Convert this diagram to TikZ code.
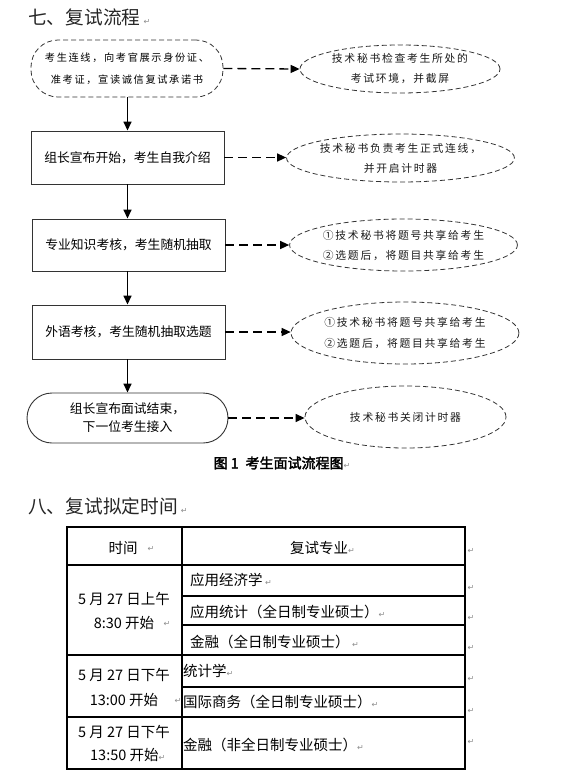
\documentclass[tikz,border=0pt]{standalone}
\usepackage{fontspec}
\setmainfont{Noto Sans CJK SC}
\newfontfamily\cjksp[LetterSpace=16]{Noto Sans CJK SC}
\newfontfamily\cjkb[FakeBold=2.5]{Noto Sans CJK SC}
\newfontfamily\dejavu{DejaVu Sans}
\usetikzlibrary{arrows.meta,shapes.geometric}
\newcommand\parmark{{\dejavu\color{black!45}\fontsize{8}{8}\selectfont ↵}}
\tikzset{
  box/.style={draw=black!80, line width=0.9pt, minimum width=193pt, minimum height=53pt,
    inner sep=0pt, align=center, font=\fontsize{12.8}{15}\selectfont},
  stadium/.style={draw=black!80, line width=0.9pt, rounded corners=25pt, minimum width=201pt,
    minimum height=50pt, inner sep=0pt, align=center, font=\fontsize{12.8}{18}\selectfont},
  topbox/.style={draw=black!80, line width=0.8pt, dash pattern=on 5pt off 3pt, rounded corners=27pt,
    minimum width=192pt, minimum height=57pt, inner sep=0pt, align=center,
    font=\cjksp\fontsize{10.2}{22}\selectfont},
  note/.style={ellipse, draw=black!80, line width=0.8pt, dash pattern=on 5pt off 3pt,
    inner sep=0pt, align=center, text=black!90, font=\cjksp\fontsize{10.8}{20}\selectfont},
  flow/.style={line width=1.5pt, -{Triangle[length=9pt,width=8pt]}},
  dflow/.style={line width=1.3pt, dash pattern=on 9pt off 5pt, -{Triangle[length=9pt,width=8pt]}},
  tbl/.style={line width=1.2pt, black},
  head/.style={anchor=west, inner sep=0pt, text=black!85, font=\fontsize{18.7}{20}\selectfont},
  cell/.style={inner sep=0pt, font=\fontsize{14.5}{16}\selectfont},
  pmk/.style={inner sep=0pt}
}
\begin{document}
\begin{tikzpicture}[x=1pt,y=-1pt]
\useasboundingbox (0,0) rectangle (566,782);

% heading 1
\node[head] (h1) at (28,17) {七、复试流程\,\parmark};

% flow nodes
\node[topbox] (n1) at (127,68.5) {考生连线，向考官展示身份证、\\准考证，宣读诚信复试承诺书};
\node[box] (n2) at (127.5,157.5) {组长宣布开始，考生自我介绍};
\node[box, minimum height=52pt] (n3) at (128.5,245) {专业知识考核，考生随机抽取};
\node[box, minimum height=54pt] (n4) at (128.5,332) {外语考核，考生随机抽取选题};
\node[stadium] (n5) at (127.5,418) {组长宣布面试结束，\\下一位考生接入};

% notes
\node[note, minimum width=200pt, minimum height=48pt] (e1) at (400,69) {技术秘书检查考生所处的\\考试环境，并截屏};
\node[note, minimum width=201pt, minimum height=48pt] (e2) at (400.5,158) {技术秘书负责考生正式连线，\\并开启计时器};
\node[note, minimum width=201pt, minimum height=52pt] (e3) at (403.5,245) {①技术秘书将题号共享给考生\\②选题后，将题目共享给考生};
\node[note, minimum width=200pt, minimum height=62pt, font=\cjksp\fontsize{10.8}{21}\selectfont] (e4) at (405,333) {①技术秘书将题号共享给考生\\②选题后，将题目共享给考生};
\node[note, minimum width=201pt, minimum height=62pt] (e5) at (405.5,417) {技术秘书关闭计时器};

% vertical arrows
\draw[flow] (n1.south -| 127.5,0) -- (n2.north -| 127.5,0);
\draw[flow] (n2.south -| 127.5,0) -- (n3.north -| 127.5,0);
\draw[flow] (n3.south -| 127.5,0) -- (n4.north -| 127.5,0);
\draw[flow] (n4.south -| 127.5,0) -- (n5.north -| 127.5,0);

% dashed arrows
\draw[dflow] (n1.east) -- (e1.west);
\draw[dflow] (n2.east) -- (e2.west |- n2.east);
\draw[dflow] (n3.east) -- (e3.west);
\draw[dflow] (n4.east) -- (e4.west |- n4.east);
\draw[dflow] (n5.east) -- (e5.west |- n5.east);

% caption
\node[inner sep=0pt, font=\cjkb\fontsize{14}{15}\selectfont] (cap) at (282,463) {图 1\enspace 考生面试流程图\parmark};

% heading 2
\node[head] (h2) at (28,506) {八、复试拟定时间\,\parmark};

% table
\draw[tbl] (67,527) rectangle (465,769);
\draw[tbl] (182,527) -- (182,769);
\draw[tbl] (67,565) -- (465,565);
\draw[tbl] (182,596) -- (465,596);
\draw[tbl] (182,625) -- (465,625);
\draw[tbl] (67,655) -- (465,655);
\draw[tbl] (182,687) -- (465,687);
\draw[tbl] (67,717) -- (465,717);

\node[cell] (c1) at (123,548) {时间};
\node[pmk] (c1m) at (151,549) {\parmark};
\node[cell, anchor=west] (c2) at (290,548) {复试专业\parmark};

\node[cell] (d1a) at (124,599) {5 月 27 日上午};
\node[cell] (d1b) at (124,623) {8:30 开始};
\node[pmk] (d1m) at (167,624) {\parmark};
\node[cell, anchor=west] (r1) at (190,580) {应用经济学\,\parmark};
\node[cell, anchor=west] (r2) at (190,612) {应用统计（全日制专业硕士）\parmark};
\node[cell, anchor=west] (r3) at (190,642) {金融（全日制专业硕士）\,\parmark};

\node[cell] (d2a) at (124,675) {5 月 27 日下午};
\node[cell] (d2b) at (124,700) {13:00 开始};
\node[pmk] (d2m) at (178,701) {\parmark};
\node[cell, anchor=west] (r4) at (183,671) {统计学\parmark};
\node[cell, anchor=west] (r5) at (183,702) {国际商务（全日制专业硕士）\parmark};

\node[cell] (d3a) at (124,732) {5 月 27 日下午};
\node[cell, anchor=west] (d3b) at (90,755) {13:50 开始\parmark};
\node[cell, anchor=west] (r6) at (183,745) {金融（非全日制专业硕士）\parmark};

% end-of-row marks
\foreach \yy/\nm in {551/m1,588/m2,618/m3,648/m4,679/m5,711/m6,742/m7}
  \node[pmk] (\nm) at (471,\yy) {\parmark};
\end{tikzpicture}
\end{document}
